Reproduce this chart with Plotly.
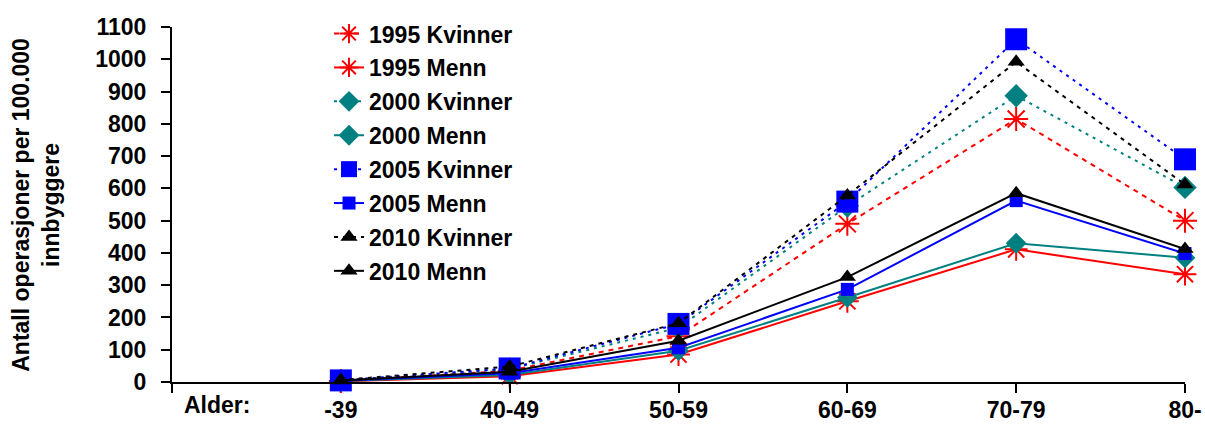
import plotly.graph_objects as go

cats = ["-39", "40-49", "50-59", "60-69", "70-79", "80-"]
y_ticks = list(range(0, 1101, 100))

k1995 = [3, 35, 142, 490, 815, 500]
m1995 = [2, 18, 85, 250, 411, 334]
k2000 = [4, 40, 168, 545, 887, 603]
m2000 = [3, 22, 97, 262, 430, 385]
k2005 = [5, 42, 180, 559, 1062, 690]
m2005 = [4, 27, 106, 287, 562, 398]
k2010 = [6, 48, 182, 578, 992, 612]
m2010 = [5, 32, 128, 325, 585, 412]

xpos = list(range(1, len(cats) + 1))

RED = "#FF0000"
TEAL = "#008080"
BLUE = "#0000FF"
BLACK = "#000000"

series = [
    ("1995 Kvinner", k1995, RED, "5px,5px", "asterisk-open", 20),
    ("1995 Menn", m1995, RED, "solid", "asterisk-open", 19),
    ("2000 Kvinner", k2000, TEAL, "3px,5px", "diamond", 18),
    ("2000 Menn", m2000, TEAL, "solid", "diamond", 16),
    ("2005 Kvinner", k2005, BLUE, "3px,5px", "square", 22),
    ("2005 Menn", m2005, BLUE, "solid", "square", 13),
    ("2010 Kvinner", k2010, BLACK, "4px,5px", "triangle-up", 15),
    ("2010 Menn", m2010, BLACK, "solid", "triangle-up", 15),
]

fig = go.Figure()
for i, (name, vals, col, dash, sym, size) in enumerate(series):
    mk = dict(symbol=sym, size=size, color=col)
    if sym.startswith("asterisk"):
        mk["line"] = dict(color=col, width=2)
    else:
        mk["line"] = dict(width=0)
    fig.add_trace(go.Scatter(
        x=xpos, y=vals, name=name, mode="lines+markers",
        line=dict(color=col, width=2, dash=dash),
        marker=mk, cliponaxis=False, legendgroup=f"g{i}",
    ))

FONT = "Liberation Sans, Arial, sans-serif"
FS = 23

fig.update_layout(
    width=1205, height=428,
    margin=dict(l=172, r=20, t=25, b=46),
    paper_bgcolor="white", plot_bgcolor="white",
    font=dict(family=FONT, size=FS, color="black"),
    showlegend=True,
    legend=dict(
        x=0.155, y=1.042, xanchor="left", yanchor="top",
        bgcolor="rgba(0,0,0,0)", borderwidth=0,
        traceorder="grouped", tracegroupgap=1, maxheight=1.0,
        font=dict(family=FONT, size=FS, color="black", weight="bold"),
    ),
    xaxis=dict(
        range=[0, len(cats)], showgrid=False, zeroline=False, automargin=False,
        showline=True, linecolor="black", linewidth=2,
        tickmode="array", tickvals=[0] + xpos[1:], ticktext=[""] * len(cats),
        ticks="outside", ticklen=9, tickwidth=2, tickcolor="black",
        fixedrange=True,
    ),
    xaxis2=dict(
        range=[0, len(cats)], overlaying="x", side="bottom", anchor="y",
        showgrid=False, zeroline=False, showline=False, automargin=False,
        tickmode="array", tickvals=xpos, ticktext=cats, ticks="",
        ticklabelstandoff=12,
        tickfont=dict(family=FONT, size=FS, color="black", weight="bold"),
    ),
    yaxis=dict(
        range=[0, 1100], showgrid=False, zeroline=False, automargin=False,
        showline=True, linecolor="black", linewidth=2,
        tickmode="array", tickvals=y_ticks,
        ticks="outside", ticklen=9, tickwidth=2, tickcolor="black",
        ticklabelstandoff=10,
        tickfont=dict(family=FONT, size=FS, color="black", weight="bold"),
    ),
    annotations=[
        dict(text="Alder:", xref="paper", yref="paper", x=0.044, y=-0.064,
             xanchor="center", yanchor="middle", showarrow=False,
             font=dict(family=FONT, size=FS, color="black", weight="bold")),
        dict(text="Antall operasjoner per 100.000<br>innbyggere",
             xref="paper", yref="paper", x=-0.135, y=0.5, textangle=-90,
             xanchor="center", yanchor="middle", showarrow=False,
             font=dict(family=FONT, size=FS, color="black", weight="bold")),
    ],
)
fig.add_trace(go.Scatter(x=[xpos[0]], y=[0], xaxis="x2", mode="markers",
                         marker=dict(opacity=0), showlegend=False, hoverinfo="skip"))

fig.write_html("out.html")
